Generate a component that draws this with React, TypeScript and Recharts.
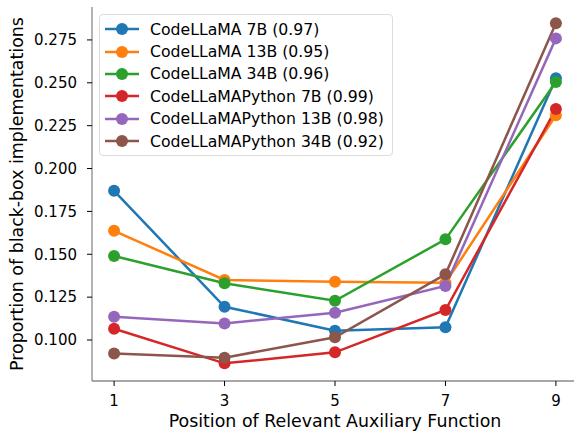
import React from 'react';
import { LineChart, Line, XAxis, YAxis } from 'recharts';

const positions = [1, 3, 5, 7, 9];
const xTicks = [1, 3, 5, 7, 9];
const yTicks = [0.1, 0.125, 0.15, 0.175, 0.2, 0.225, 0.25, 0.275];

const llama7b = [0.187, 0.1194, 0.1054, 0.1074, 0.2526];
const llama13b = [0.1637, 0.135, 0.134, 0.1334, 0.2311];
const llama34b = [0.149, 0.1331, 0.1229, 0.1587, 0.2505];
const python7b = [0.1066, 0.0864, 0.0928, 0.1175, 0.2347];
const python13b = [0.1136, 0.1097, 0.1159, 0.1315, 0.2759];
const python34b = [0.0922, 0.0897, 0.1016, 0.1383, 0.2847];

const series = [
  { key: 'llama7b', name: 'CodeLLaMA 7B (0.97)', color: '#1f77b4', values: llama7b },
  { key: 'llama13b', name: 'CodeLLaMA 13B (0.95)', color: '#ff7f0e', values: llama13b },
  { key: 'llama34b', name: 'CodeLLaMA 34B (0.96)', color: '#2ca02c', values: llama34b },
  { key: 'python7b', name: 'CodeLLaMAPython 7B (0.99)', color: '#d62728', values: python7b },
  { key: 'python13b', name: 'CodeLLaMAPython 13B (0.98)', color: '#9467bd', values: python13b },
  { key: 'python34b', name: 'CodeLLaMAPython 34B (0.92)', color: '#8c564b', values: python34b },
];

const data = positions.map((pos, i) => {
  const row: Record<string, number> = { pos };
  series.forEach((s) => {
    row[s.key] = s.values[i];
  });
  return row;
});

const font = 'DejaVu Sans, sans-serif';
const spine = '#8a8a8a';

function LegendBox() {
  return (
    <div
      style={{
        position: 'absolute',
        left: 99,
        top: 14,
        border: '1px solid #dcdcdc',
        borderRadius: 4,
        background: 'rgba(255,255,255,0.8)',
        padding: '3px 8px 3px 4px',
        fontFamily: font,
        fontSize: 15.7,
        color: '#000',
      }}
    >
      {series.map((s) => (
        <div key={s.key} style={{ display: 'flex', alignItems: 'center', height: 22.4 }}>
          <svg width={40} height={14} style={{ marginRight: 6 }}>
            <line x1={1} y1={7} x2={35} y2={7} stroke={s.color} strokeWidth={2.5} />
            <circle cx={18} cy={7} r={6} fill={s.color} />
          </svg>
          <span style={{ whiteSpace: 'nowrap' }}>{s.name}</span>
        </div>
      ))}
    </div>
  );
}

export default function App() {
  return (
    <div style={{ position: 'absolute', left: 0, top: 0, width: 574, height: 434, overflow: 'hidden', background: '#fff' }}>
      <LineChart width={578} height={434} data={data} margin={{ top: 7, right: 0, bottom: 0, left: 0 }}>
        <XAxis
          dataKey="pos"
          type="number"
          domain={[0.6, 9.4]}
          ticks={xTicks}
          height={53}
          tickSize={5}
          tickMargin={9}
          axisLine={{ stroke: spine, strokeWidth: 1.3 }}
          tickLine={{ stroke: '#000' }}
          tick={{ fill: '#000', fontSize: 15, fontFamily: font }}
          label={{ value: 'Position of Relevant Auxiliary Function', position: 'insideBottom', offset: 7, fill: '#000', fontSize: 17.4, fontFamily: font }}
        />
        <XAxis
          xAxisId="top"
          orientation="top"
          type="number"
          domain={[0.6, 9.4]}
          height={0}
          tick={false}
          tickLine={false}
          axisLine={{ stroke: spine, strokeWidth: 1.3 }}
        />
        <YAxis
          type="number"
          domain={[0.0761, 0.2942]}
          ticks={yTicks}
          width={92}
          tickSize={5}
          tickMargin={10}
          allowDataOverflow
          axisLine={{ stroke: spine, strokeWidth: 1.3 }}
          tickLine={{ stroke: '#000' }}
          tick={{ fill: '#000', fontSize: 15, fontFamily: font }}
          tickFormatter={(v: number) => v.toFixed(3)}
          label={{
            value: 'Proportion of black-box implementations',
            angle: -90,
            position: 'insideLeft',
            offset: 17,
            fill: '#000',
            fontSize: 17.4,
            fontFamily: font,
            style: { textAnchor: 'middle' },
          }}
        />
        {series.map((s) => (
          <Line
            key={s.key}
            dataKey={s.key}
            name={s.name}
            stroke={s.color}
            strokeWidth={2.5}
            dot={{ r: 6, fill: s.color, stroke: s.color, strokeWidth: 0 }}
            activeDot={false}
            isAnimationActive={false}
          />
        ))}
      </LineChart>
      <LegendBox />
    </div>
  );
}
